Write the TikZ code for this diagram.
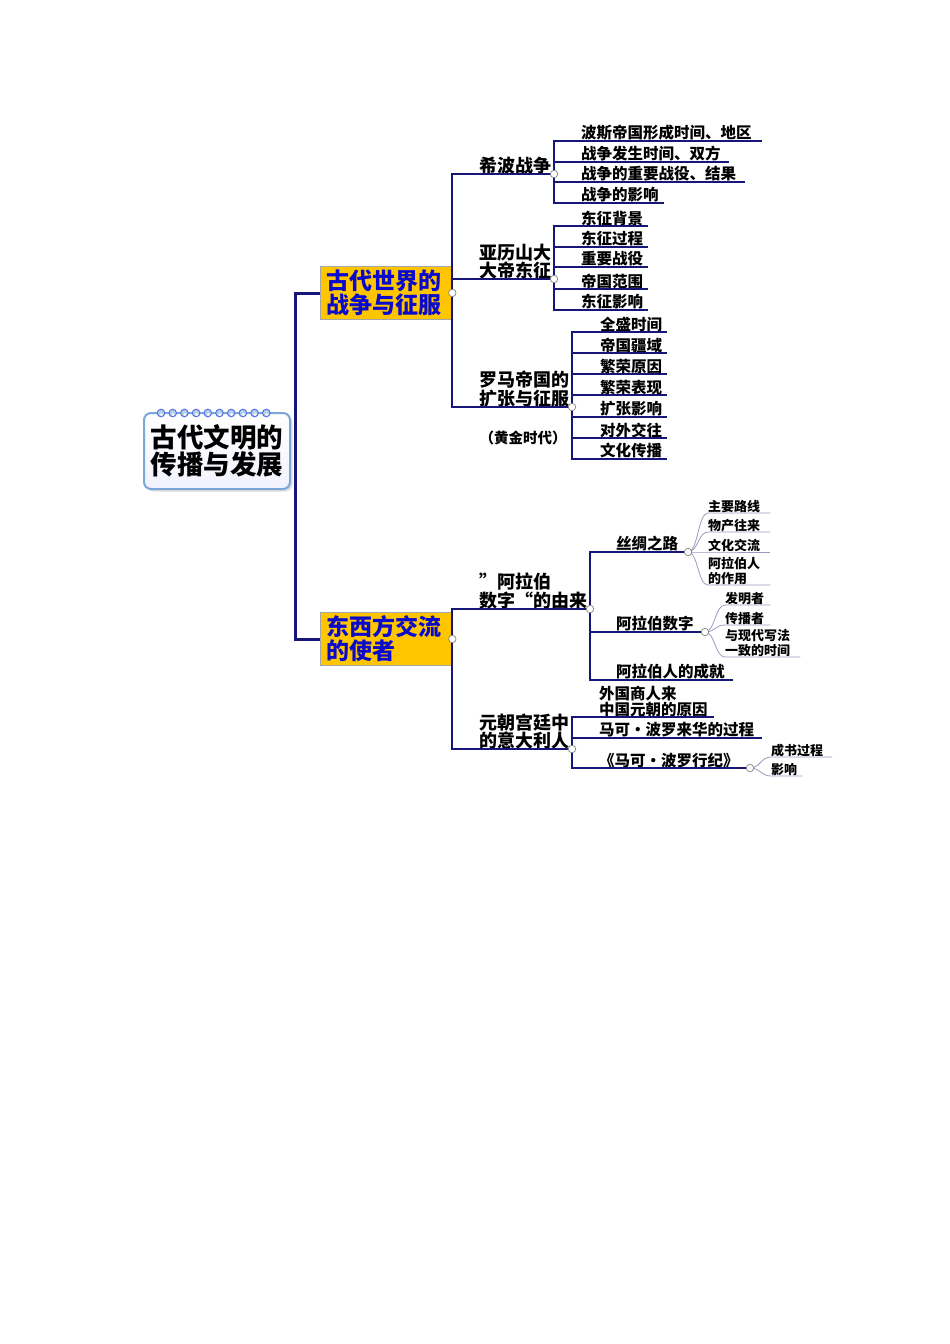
\documentclass[tikz,border=0pt]{standalone}
\usepackage{fontspec}
\setmainfont{Noto Sans CJK SC}
\usetikzlibrary{shadows}
\definecolor{navy}{HTML}{15157A}
\definecolor{boxyellow}{HTML}{FFC600}
\definecolor{boxblue}{HTML}{0A0ACC}
\definecolor{rootblue}{HTML}{7AA6D8}
\definecolor{curvecol}{HTML}{9A9AC0}
\newcommand\mmRoot{\fontsize{26.5pt}{27pt}\selectfont\bfseries}
\newcommand\mmBox{\fontsize{23pt}{24pt}\selectfont\bfseries}
\newcommand\mmLab{\fontsize{18pt}{18.5pt}\selectfont\bfseries}
\newcommand\mmMid{\fontsize{15.5pt}{15.5pt}\selectfont\bfseries}
\newcommand\mmSmall{\fontsize{13pt}{15pt}\selectfont\bfseries}
\tikzset{
  rootbox/.style={rectangle, rounded corners=7pt, draw=rootblue, line width=2pt,
    top color=white, bottom color=blue!5, minimum width=146pt, minimum height=76pt,
    align=center, font=\mmRoot, inner sep=0pt,
    drop shadow={shadow xshift=2.5pt, shadow yshift=-2.5pt, fill=gray!50}},
  bigbox/.style={rectangle, fill=boxyellow, draw=gray!70, line width=0.6pt,
    text width=120pt, inner xsep=6pt, minimum height=50pt, align=left,
    font=\mmBox, text=boxblue},
  lab/.style={anchor=south west, inner sep=0pt, align=left, font=\mmLab},
  leaf/.style={anchor=south west, inner xsep=0pt, inner ysep=0.3pt, align=left, font=\mmMid},
  leafs/.style={leaf, font=\mmSmall},
  trunkline/.style={draw=navy, line width=3pt},
  brline/.style={draw=navy, line width=2pt},
  subline/.style={draw=navy, line width=1.4pt},
  curveline/.style={draw=curvecol, line width=0.8pt},
  dot/.style={circle, draw=gray, fill=white, line width=0.7pt, minimum size=7.5pt, inner sep=0pt},
  ring/.style={draw=rootblue!70!blue, fill=rootblue!55, line width=1pt}
}
\begin{document}
\begin{tikzpicture}[x=1pt,y=-1pt]
\useasboundingbox (0,0) rectangle (950,1344);

% ---------- root ----------
\node[rootbox] (root) at (217,451) {古代文明的\\传播与发展};
\foreach \i in {0,...,9} {
  \draw[ring] (161+11.7*\i,413) circle (3.8);
  \fill[white] (161.5+11.7*\i,414.5) circle (1.5);
}

% ---------- main boxes ----------
\node[bigbox] (b1) at (386,293) {古代世界的\\战争与征服};
\node[bigbox] (b2) at (386,639) {东西方交流\\的使者};
\coordinate (tr) at (295,465);
\draw[trunkline] (b1.west) -| (tr) |- (b2.west);

% ---------- junction coordinates ----------
\coordinate (p1) at (554,174);
\coordinate (p2) at (554,279);
\coordinate (p3) at (572,407);
\coordinate (p4) at (590,609);
\coordinate (p5) at (572,749);
\coordinate (p6) at (688,552);
\coordinate (p7) at (705,632);
\coordinate (p8) at (750,768);

% ---------- level-2 labels ----------
\node[lab] (n1) at (479,174.5) {希波战争};
\node[lab] (n2) at (479,279.5) {亚历山大\\大帝东征};
\node[lab] (n3) at (479,407.5) {罗马帝国的\\扩张与征服};
\node[font=\fontsize{14.5pt}{15pt}\selectfont\bfseries, inner sep=0pt] (gold) at (523,438) {（黄金时代）};
\node[lab] (n4) at (479,609.5) {”阿拉伯\\数字“的由来};
\node[lab] (n5) at (479,749.5) {元朝宫廷中\\的意大利人};

\draw[brline] (b1.east) |- (p1);
\draw[brline] (b1.east) |- (p2);
\draw[brline] (b1.east) |- (p3);
\draw[brline] (b2.east) |- (p4);
\draw[brline] (b2.east) |- (p5);

% ---------- group 1 ----------
\node[leaf, text width=181pt] (l11) at (581,141) {波斯帝国形成时间、地区};
\node[leaf, text width=148pt] (l12) at (581,162) {战争发生时间、双方};
\node[leaf, text width=164pt] (l13) at (581,182) {战争的重要战役、结果};
\node[leaf, text width=83pt] (l14) at (581,203) {战争的影响};
\foreach \n in {l11,l12,l13,l14} \draw[subline] (p1) |- (\n.south east);

% ---------- group 2 ----------
\node[leaf, text width=67pt] (l21) at (581,226) {东征背景};
\node[leaf, text width=67pt] (l22) at (581,247) {东征过程};
\node[leaf, text width=67pt] (l23) at (581,267) {重要战役};
\node[leaf, text width=67pt] (l24) at (581,289) {帝国范围};
\node[leaf, text width=67pt] (l25) at (581,310) {东征影响};
\foreach \n in {l21,l22,l23,l24,l25} \draw[subline] (p2) |- (\n.south east);

% ---------- group 3 ----------
\node[leaf, text width=67pt] (l31) at (600,332) {全盛时间};
\node[leaf, text width=67pt] (l32) at (600,353) {帝国疆域};
\node[leaf, text width=67pt] (l33) at (600,374) {繁荣原因};
\node[leaf, text width=67pt] (l34) at (600,395) {繁荣表现};
\node[leaf, text width=67pt] (l35) at (600,417) {扩张影响};
\node[leaf, text width=67pt] (l36) at (600,438) {对外交往};
\node[leaf, text width=67pt] (l37) at (600,459) {文化传播};
\foreach \n in {l31,l32,l33,l34,l35,l36,l37} \draw[subline] (p3) |- (\n.south east);

% ---------- group 4 ----------
\node[anchor=south west, inner sep=0pt, font=\mmMid] (n6) at (616,551.5) {丝绸之路};
\node[anchor=south west, inner sep=0pt, font=\mmMid] (n7) at (616,631.5) {阿拉伯数字};
\node[leaf, text width=117pt] (l43) at (616,680) {阿拉伯人的成就};
\draw[subline] (p4) |- (p6);
\draw[subline] (p4) |- (p7);
\draw[subline] (p4) |- (l43.south east);

% ---------- group 6 (curved) ----------
\node[leafs, text width=62pt] (l61) at (708,513) {主要路线};
\node[leafs, text width=62pt] (l62) at (708,532) {物产往来};
\node[leafs, text width=62pt] (l63) at (708,552) {文化交流};
\node[leafs, text width=62pt] (l64) at (708,585) {阿拉伯人\\的作用};
\foreach \n in {l61,l62,l63,l64}
  \draw[curveline] (p6) .. controls +(10,0) and +(-10,0) .. (\n.south west) -- (\n.south east);

% ---------- group 7 (curved) ----------
\node[leafs, text width=45pt] (l71) at (725,605) {发明者};
\node[leafs, text width=45pt] (l72) at (725,625) {传播者};
\node[leafs, text width=75pt] (l73) at (725,657) {与现代写法\\一致的时间};
\foreach \n in {l71,l72,l73}
  \draw[curveline] (p7) .. controls +(10,0) and +(-10,0) .. (\n.south west) -- (\n.south east);

% ---------- group 5 ----------
\node[leaf, text width=115pt] (l51) at (599,717) {外国商人来\\中国元朝的原因};
\node[leaf, text width=163pt] (l52) at (599,738) {马可·波罗来华的过程};
\node[anchor=south west, inner sep=0pt, font=\mmMid] (n8) at (599,768.5) {《马可·波罗行纪》};
\draw[subline] (p5) |- (l51.south east);
\draw[subline] (p5) |- (l52.south east);
\draw[subline] (p5) |- (p8);

% ---------- group 8 (curved) ----------
\node[leafs, text width=61pt] (l81) at (771,757) {成书过程};
\node[leafs, text width=31pt] (l82) at (771,776) {影响};
\foreach \n in {l81,l82}
  \draw[curveline] (p8) .. controls +(10,0) and +(-10,0) .. (\n.south west) -- (\n.south east);

% ---------- dots ----------
\node[dot] (d0) at (b1.east) {};
\node[dot] (d00) at (b2.east) {};
\foreach \p in {p1,p2,p3,p4,p5,p6,p7,p8} \node[dot] (d\p) at (\p) {};
\end{tikzpicture}
\end{document}
